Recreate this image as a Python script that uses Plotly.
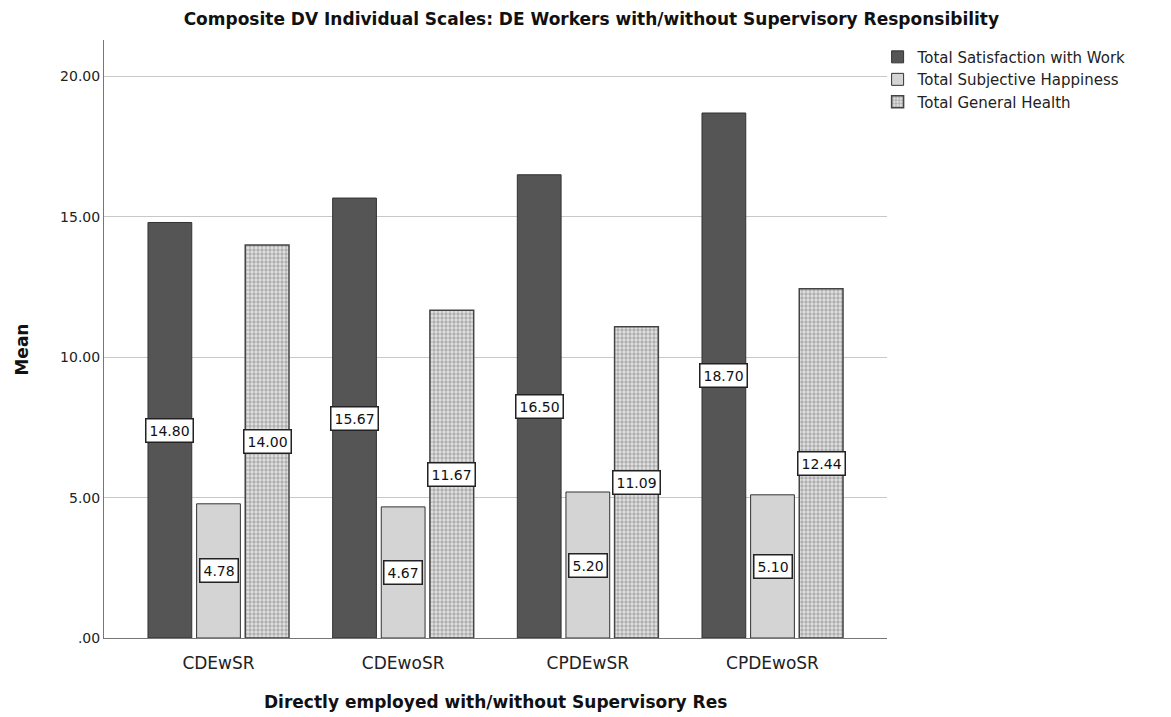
import plotly.graph_objects as go

groups = ["CDEwSR", "CDEwoSR", "CPDEwSR", "CPDEwoSR"]
series_names = ["Total Satisfaction with Work", "Total Subjective Happiness", "Total General Health"]
satisfaction = [14.80, 15.67, 16.50, 18.70]
happiness = [4.78, 4.67, 5.20, 5.10]
health = [14.00, 11.67, 11.09, 12.44]
y_ticks = [0, 5, 10, 15, 20]
y_tick_text = [".00", "5.00", "10.00", "15.00", "20.00"]

FONT = "DejaVu Sans"
BARGAP = 0.21
GROUPGAP = 0.1

series = [
    (series_names[0], satisfaction, dict(color="#555555", line=dict(color="#333333", width=1))),
    (series_names[1], happiness, dict(color="#d4d4d4", line=dict(color="#333333", width=1))),
    (series_names[2], health, dict(color="#d0d0d0", line=dict(color="#444444", width=1.5),
                                   pattern=dict(shape=".", size=4, solidity=0.55,
                                                fgcolor="#7a7a7a", bgcolor="#e2e2e2"))),
]

fig = go.Figure()
for name, vals, marker in series:
    fig.add_trace(go.Bar(x=groups, y=vals, name=name, marker=marker))

# boxed value labels at the vertical middle of each bar
slot = (1 - BARGAP) / len(series)
annotations = []
for s, (name, vals, _) in enumerate(series):
    offset = (s - (len(series) - 1) / 2) * slot
    for i, v in enumerate(vals):
        annotations.append(dict(
            x=i + offset, y=v / 2, xref="x", yref="y",
            text=f"{v:.2f}", showarrow=False,
            font=dict(family=FONT, size=14, color="#111111"),
            bgcolor="white", bordercolor="#222222", borderwidth=1.5, borderpad=3,
        ))

# axis titles
annotations.append(dict(
    x=0.5, y=-0.107, xref="paper", yref="paper", xanchor="center", yanchor="middle",
    text="<b>Directly employed with/without Supervisory Res</b>", showarrow=False,
    font=dict(family=FONT, size=17, color="#111111"),
))
annotations.append(dict(
    x=-0.105, y=0.482, xref="paper", yref="paper", xanchor="center", yanchor="middle",
    text="<b>Mean</b>", showarrow=False, textangle=-90,
    font=dict(family=FONT, size=17, color="#111111"),
))

fig.update_layout(
    width=1171, height=717,
    paper_bgcolor="white", plot_bgcolor="white",
    margin=dict(l=104, r=284, t=40, b=79, autoexpand=False),
    barmode="group", bargap=BARGAP, bargroupgap=GROUPGAP,
    title=dict(text="<b>Composite DV Individual Scales: DE Workers with/without Supervisory Responsibility</b>",
               x=0.505, xanchor="center", y=0.973, yanchor="middle",
               font=dict(family=FONT, size=17, color="#111111")),
    font=dict(family=FONT, color="#222222"),
    legend=dict(x=0.988, xanchor="left", y=0.999, yanchor="top",
                font=dict(family=FONT, size=15, color="#222222"),
                tracegroupgap=0, itemwidth=30, bgcolor="rgba(0,0,0,0)"),
    annotations=annotations,
)
fig.update_xaxes(
    range=[-0.62, 3.62], showline=True, linecolor="#777777", linewidth=1,
    automargin=False, ticks="", ticklabelstandoff=10,
    tickfont=dict(family=FONT, size=17, color="#222222"),
)
fig.update_yaxes(
    range=[0, 21.3], tickvals=y_ticks, ticktext=y_tick_text,
    showgrid=True, gridcolor="#c8c8c8", gridwidth=1, zeroline=False,
    showline=True, linecolor="#777777", linewidth=1, ticks="", automargin=False,
    tickfont=dict(family=FONT, size=14, color="#222222"),
)

fig.write_html("out.html")
